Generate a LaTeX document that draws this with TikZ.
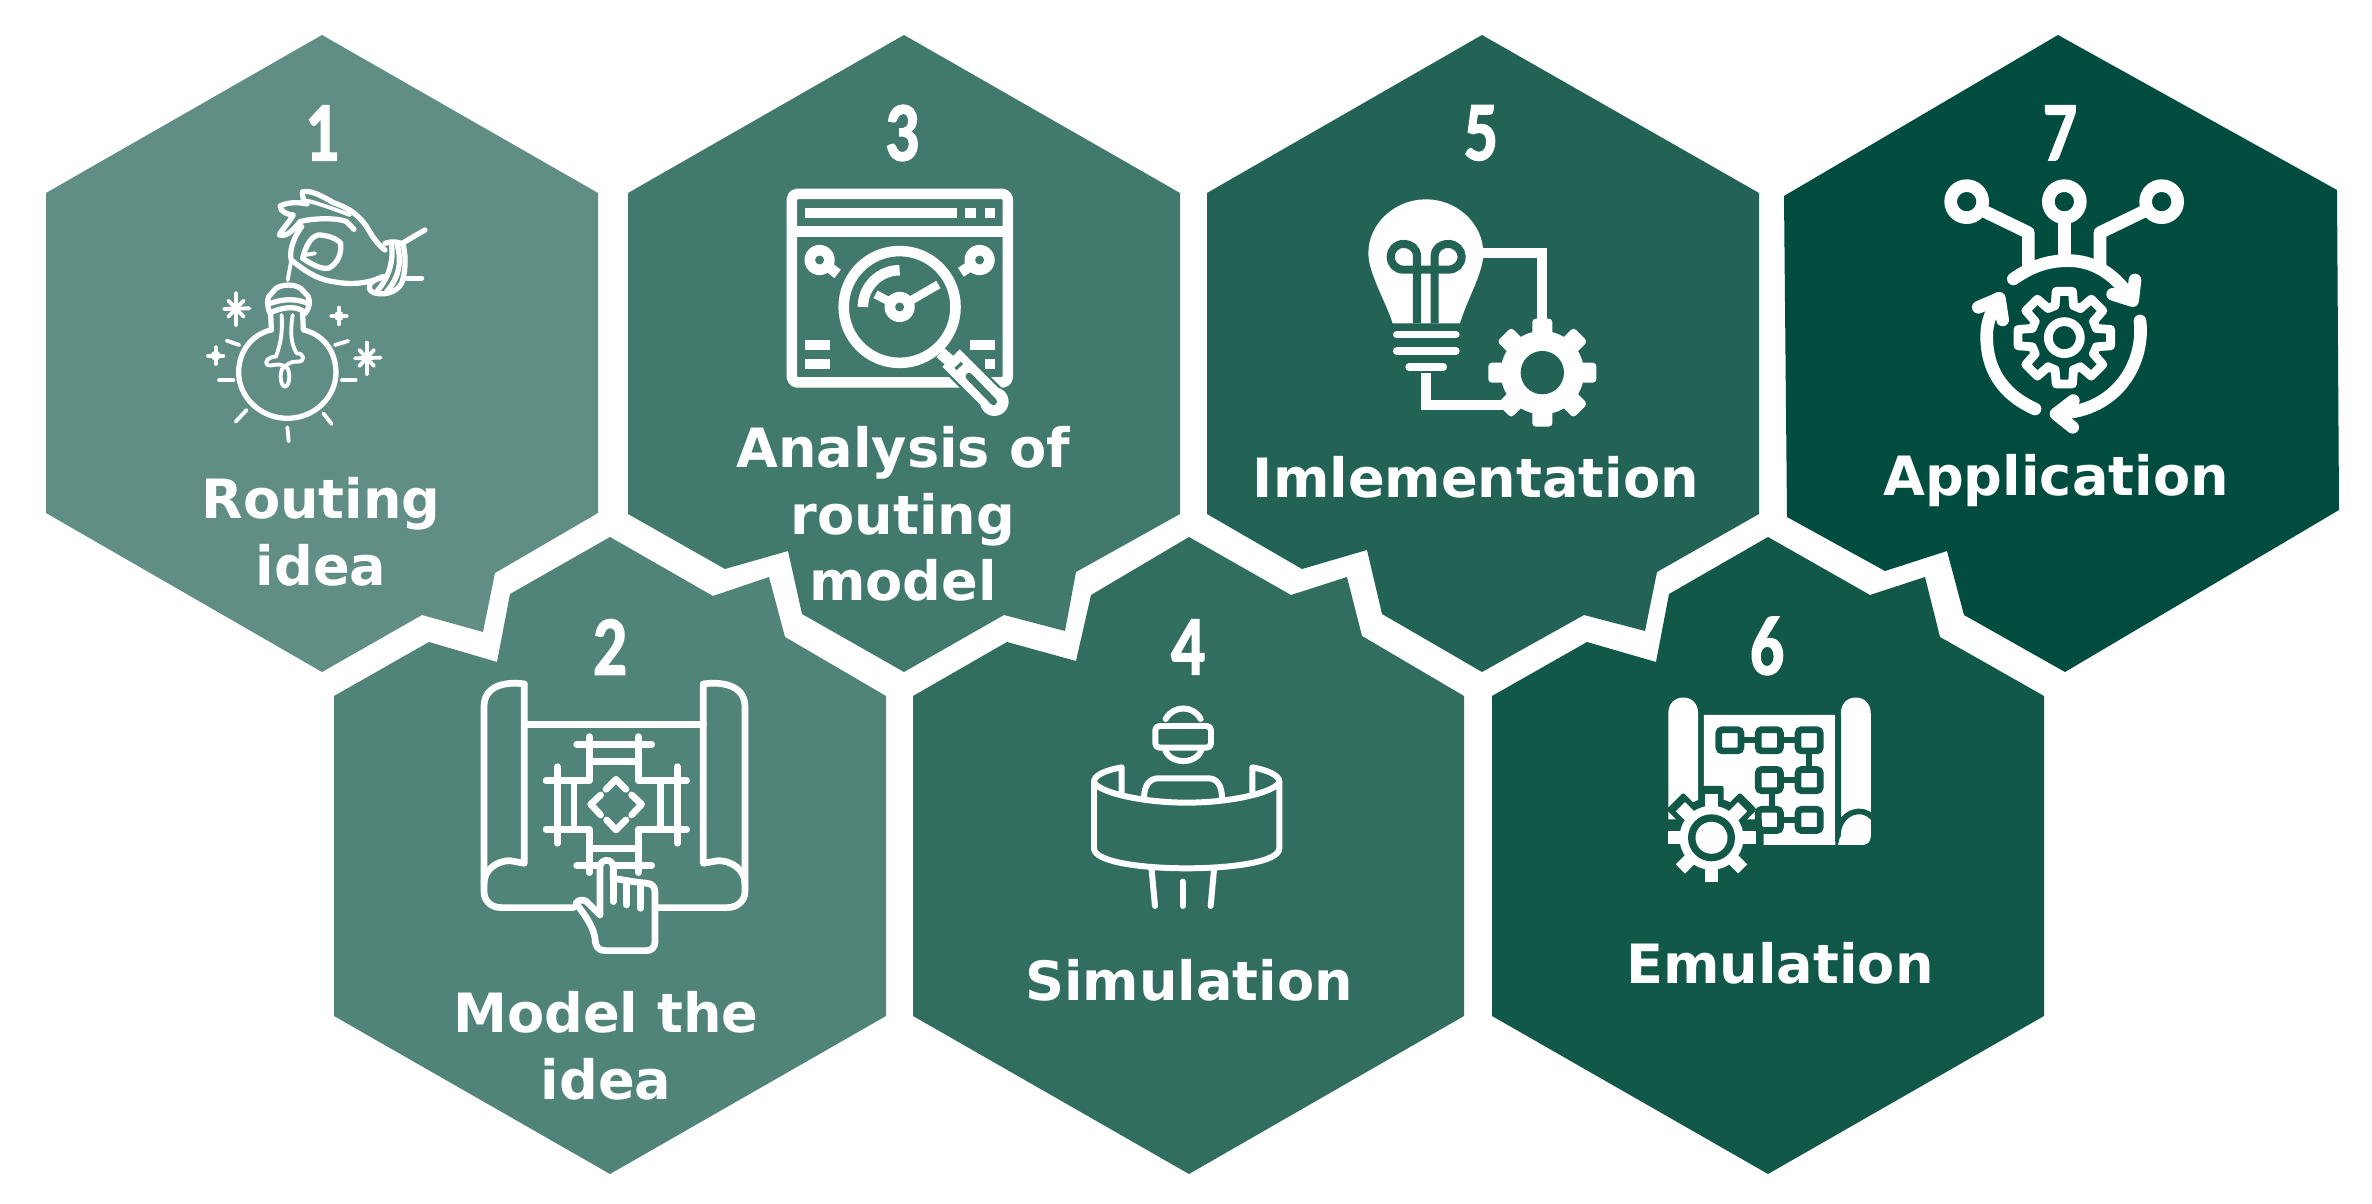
\documentclass[tikz,border=0pt]{standalone}
\usepackage{fontspec}
\setmainfont{DejaVu Sans}
\newfontfamily\numfont[BoldFeatures={FakeStretch=0.8,FakeBold=1.5}]{Carlito}

\definecolor{hexone}{HTML}{608E85}
\definecolor{hextwo}{HTML}{518479}
\definecolor{hexthree}{HTML}{41796D}
\definecolor{hexfour}{HTML}{316E60}
\definecolor{hexfive}{HTML}{226356}
\definecolor{hexsix}{HTML}{115848}
\definecolor{hexseven}{HTML}{004D40}

\tikzset{
  steplabel/.style={text=white,inner sep=0pt,align=center,font=\fontsize{15.4}{19}\selectfont\bfseries},
  stepnum/.style={text=white,inner sep=0pt,font=\numfont\fontsize{24}{24}\selectfont\bfseries},
  iconline/.style={draw=white,line width=#1,line cap=round,line join=round},
  iconline/.default=1.7pt
}

\begin{document}
\begin{tikzpicture}[x=0.01cm,y=-0.01cm]
\useasboundingbox (0,0) rectangle (2372,1204);

\fill[hexone] (322,35)--(598,193)--(598,513)--(495,573)--(483,632)--(422,615)--(322,672)--(46,513)--(46,193)--cycle;
\fill[hextwo] (610,537)--(713,596)--(769,577)--(785,637)--(886,696)--(886,1016)--(610,1174)--(334,1016)--(334,696)--(429,642)--(497,662)--(510,594)--cycle;
\fill[hexthree] (904,35)--(1180,193)--(1180,514)--(1076,572)--(1065,631)--(1004,615)--(904,672)--(802,614)--(788,551)--(725,569)--(628,514)--(628,193)--cycle;
\fill[hexfour] (1189,537)--(1291,595)--(1347,577)--(1362,636)--(1464,696)--(1464,1016)--(1189,1174)--(913,1016)--(913,696)--(1007,642)--(1076,661)--(1091,595)--cycle;
\fill[hexfive] (1482,35)--(1759,193)--(1759,514)--(1657,572)--(1645,631)--(1584,615)--(1482,672)--(1382,614)--(1367,550)--(1302,569)--(1207,514)--(1207,193)--cycle;
\fill[hexsix] (1768,537)--(1870,595)--(1925,577)--(1940,637)--(2044,696)--(2044,1016)--(1768,1174)--(1492,1016)--(1492,696)--(1587,642)--(1656,662)--(1669,594)--cycle;
\fill[hexseven] (2058,35)--(2337,190)--(2339,510)--(2065,672)--(1964,615)--(1947,551)--(1885,571)--(1787,517)--(1784,196)--cycle;

\node[stepnum] (num1) at (322,133) {1};
\node[stepnum] (num2) at (610,647) {2};
\node[stepnum] (num3) at (902,133) {3};
\node[stepnum] (num4) at (1188,647) {4};
\node[stepnum] (num5) at (1481,133) {5};
\node[stepnum] (num6) at (1767,646) {6};
\node[stepnum] (num7) at (2060,133) {7};

\node[steplabel] (idea) at (321,532) {Routing\\idea};
\node[steplabel] (model) at (606,1046) {Model the\\idea};
\node[steplabel] (analysis) at (903,514) {Analysis of\\routing\\model};
\node[steplabel] (simulation) at (1189,980) {Simulation};
\node[steplabel] (implementation) at (1476,477) {Imlementation};
\node[steplabel] (emulation) at (1780,963) {Emulation};
\node[steplabel] (application) at (2056,481) {Application};

% bulb in the hand
\begin{scope}[shift={(190,180)},scale=0.3333]
\draw[iconline=1.5pt] (244,450) .. controls (195,460) and (146,505) .. (146,578) .. controls (146,650) and (210,715) .. (292,715) .. controls (375,715) and (438,650) .. (438,578) .. controls (438,505) and (390,460) .. (340,450)--(338,400);
\draw[iconline=1.5pt] (244,450)--(242,400);
\draw[iconline=1.5pt] (240,400) .. controls (230,375) and (232,360) .. (236,350)--(258,325) .. controls (280,312) and (310,312) .. (332,325)--(355,350) .. controls (360,365) and (360,380) .. (346,400);
\draw[iconline=1.5pt] (236,372) .. controls (280,355) and (320,355) .. (358,372);
\draw[iconline=1.5pt] (240,398) .. controls (290,378) and (320,378) .. (346,398);
\draw[iconline=1.1pt] (304,240)--(293,300);
\draw[iconline=1.1pt] (275,405) .. controls (278,460) and (272,490) .. (258,530);
\draw[iconline=1.1pt] (308,405) .. controls (300,460) and (303,490) .. (320,520);
\draw[iconline=1.1pt] (285,590) ellipse (13 and 30);
\draw[iconline=1.1pt] (258,530) .. controls (235,530) and (222,545) .. (232,555) .. controls (245,562) and (262,545) .. (285,560);
\draw[iconline=1.1pt] (320,520) .. controls (345,520) and (345,545) .. (325,545) .. controls (310,545) and (300,545) .. (285,560);
\draw[iconline=1.1pt] (137,340)--(137,435);
\draw[iconline=1.1pt] (102,387)--(178,385);
\draw[iconline=1.1pt] (115,362)--(161,410);
\draw[iconline=1.1pt] (161,362)--(115,410);
\draw[iconline=1.1pt] (530,488)--(530,582);
\draw[iconline=1.1pt] (495,535)--(572,533);
\draw[iconline=1.1pt] (508,510)--(552,558);
\draw[iconline=1.1pt] (552,510)--(508,558);
\foreach \sx/\sy in {447/408,77/527} {
  \fill[white] (\sx,\sy) circle (15);
  \draw[iconline=1.1pt] (\sx,\sy-25)--(\sx,\sy+25);
  \draw[iconline=1.1pt] (\sx-23,\sy)--(\sx+23,\sy);
}
\draw[iconline=1.1pt] (110,482)--(148,495);
\draw[iconline=1.1pt] (435,495)--(475,483);
\draw[iconline=1.1pt] (87,601)--(130,601);
\draw[iconline=1.1pt] (456,601)--(497,601);
\draw[iconline=1.1pt] (170,690)--(137,725);
\draw[iconline=1.1pt] (400,700)--(425,732);
\draw[iconline=1.1pt] (292,742)--(296,784);
\draw[iconline=1.5pt] (338,36) .. controls (360,28) and (400,50) .. (430,68) .. controls (480,85) and (505,105) .. (530,140) .. controls (550,175) and (565,195) .. (585,210);
\draw[iconline=1.5pt] (338,36) .. controls (335,50) and (340,60) .. (352,72) .. controls (320,65) and (290,68) .. (270,78) .. controls (270,95) and (295,105) .. (310,105) .. controls (295,130) and (275,150) .. (268,165) .. controls (290,172) and (310,150) .. (330,125) .. controls (380,112) and (450,115) .. (470,125)--(492,148);
\draw[iconline=1.1pt] (352,62) .. controls (400,75) and (440,90) .. (480,105);
\draw[iconline=1.5pt] (335,140) .. controls (305,180) and (298,220) .. (304,240) .. controls (340,270) and (380,298) .. (430,305) .. controls (480,315) and (530,312) .. (580,290);
\draw[iconline=1.5pt] (338,235) .. controls (345,205) and (360,170) .. (385,165) .. controls (410,165) and (440,175) .. (452,190) .. controls (455,220) and (445,250) .. (415,265) .. controls (390,268) and (360,250) .. (338,235);
\draw[iconline=1.1pt] (345,225)--(375,220);
\draw[iconline=1.5pt] (585,190) .. controls (605,182) and (630,185) .. (640,195) .. controls (650,240) and (645,280) .. (635,310) .. controls (620,340) and (570,350) .. (545,335) .. controls (530,320) and (535,305) .. (580,290);
\draw[iconline=1.5pt] (605,195) .. controls (610,240) and (600,290) .. (560,335);
\draw[iconline=1.5pt] (622,195) .. controls (635,240) and (630,290) .. (590,335);
\draw[iconline=1.5pt] (640,188)--(705,150);
\draw[iconline=1.5pt] (645,295)--(695,295);
\end{scope}

% blueprint with the finger
\begin{scope}[shift={(470,670)},scale=0.3333]
\draw[iconline=1.9pt] (163,42) .. controls (120,35) and (42,40) .. (42,110)--(42,665) .. controls (42,690) and (60,713) .. (95,713)--(310,713);
\draw[iconline=1.9pt] (163,42)--(163,580)--(120,572) .. controls (80,572) and (42,600) .. (42,640);
\draw[iconline=1.9pt] (700,42) .. controls (745,35) and (825,40) .. (825,110)--(825,665) .. controls (825,690) and (805,713) .. (770,713)--(555,713);
\draw[iconline=1.9pt] (700,42)--(700,580)--(745,572) .. controls (785,572) and (825,600) .. (825,640);
\draw[iconline=1.9pt] (163,163)--(700,163);
\draw[iconline=1.9pt] (320,223)--(545,223);
\draw[iconline=1.9pt] (358,200)--(358,332)--(228,332);
\draw[iconline=1.9pt] (505,200)--(505,332)--(650,332);
\draw[iconline=1.9pt] (365,275)--(495,275);
\draw[iconline=1.9pt] (262,290)--(262,520);
\draw[iconline=1.9pt] (622,290)--(622,520);
\draw[iconline=1.9pt] (312,342)--(312,470);
\draw[iconline=1.9pt] (572,342)--(572,470);
\draw[iconline=1.9pt] (228,478)--(358,478)--(358,608);
\draw[iconline=1.9pt] (650,478)--(505,478)--(505,608);
\draw[iconline=1.9pt] (365,535)--(495,535);
\draw[iconline=1.9pt] (320,587)--(545,587);
\draw[iconline=1.9pt] (408,358)--(438,328)--(468,358);
\draw[iconline=1.9pt] (485,375)--(515,403)--(485,435);
\draw[iconline=1.9pt] (410,450)--(438,480)--(468,450);
\draw[iconline=1.9pt] (392,375)--(362,403)--(392,435);
\draw[iconline=1.9pt,fill=hextwo] (390,735)--(390,590) .. controls (392,565) and (428,565) .. (430,590)--(430,625)--(490,635)--(530,640) .. controls (545,640) and (555,650) .. (555,665)--(555,815) .. controls (555,832) and (545,842) .. (530,842)--(405,842) .. controls (385,842) and (376,830) .. (375,805) .. controls (370,770) and (345,735) .. (318,700) .. controls (325,688) and (340,688) .. (350,695)--cycle;
\draw[iconline=1.9pt] (430,590)--(430,695);
\draw[iconline=1.9pt] (470,632)--(470,705);
\draw[iconline=1.9pt] (512,640)--(512,715);
\end{scope}

% window with the magnifier
\begin{scope}[shift={(620,20)},scale=0.4082]
\draw[iconline=3pt,rounded corners=1.5pt] (421,426) rectangle (950,888);
\draw[iconline=3pt,line cap=butt] (421,518)--(950,518);
\fill[white] (453,461) rectangle (826,484);
\fill[white] (845,461) rectangle (872,484);
\fill[white] (893,461) rectangle (918,484);
\fill[white] (453,785) rectangle (514,808);
\fill[white] (453,830) rectangle (514,855);
\fill[white] (857,785) rectangle (918,808);
\fill[white] (893,830) rectangle (918,855);
\foreach \kx/\tx/\ty in {489/533/622,881/835/618} {
  \draw[iconline=3pt,line cap=butt] (\kx,588)--(\tx,\ty);
  \fill[white] (\kx,588) circle (37);
  \fill[hexthree] (\kx,588) circle (11);
}
\draw[draw=white,line width=3pt] (685,703) circle (137);
\draw[draw=white,line width=3pt] (595,703) arc (180:270:90);
\draw[draw=white,line width=2.4pt] (685,703)--(780,648);
\draw[draw=white,line width=2.4pt] (685,703)--(626,672);
\fill[white] (685,703) circle (37);
\fill[hexthree] (685,703) circle (11);
\draw[draw=hexthree,line width=8.4pt] (808,825)--(915,932);
\draw[draw=white,line width=3.4pt] (785,815)--(808,835);
\draw[draw=white,line width=7pt] (811,828)--(905,922);
\fill[white] (917,935) circle (35);
\draw[draw=hexthree,line width=2pt,line cap=round] (855,873)--(915,935);
\draw[draw=hexthree,line width=0.9pt] (822,855)--(838,840);
\end{scope}

% figure behind the curved screen
\begin{scope}[shift={(1070,690)},scale=0.3333]
\draw[iconline=1.7pt] (287,87) .. controls (310,45) and (370,45) .. (392,87);
\draw[iconline=1.7pt,rounded corners=1.2pt] (256,108) rectangle (423,173);
\draw[iconline=1.7pt] (285,178) .. controls (300,225) and (380,225) .. (395,178);
\draw[iconline=1.7pt] (222,325) .. controls (222,285) and (240,265) .. (265,265)--(415,265) .. controls (440,265) and (456,285) .. (456,325);
\draw[iconline=1.7pt] (155,310)--(155,232) .. controls (110,240) and (72,255) .. (72,275)--(72,475) .. controls (72,515) and (210,535) .. (350,535) .. controls (490,535) and (628,515) .. (628,475)--(628,275) .. controls (628,255) and (590,240) .. (547,232)--(547,310);
\draw[iconline=1.7pt] (72,275) .. controls (80,305) and (210,338) .. (350,338) .. controls (490,338) and (620,305) .. (628,275);
\draw[iconline=1.7pt] (245,540)--(255,648);
\draw[iconline=1.7pt] (338,575)--(338,648);
\draw[iconline=1.7pt] (432,540)--(422,648);
\end{scope}

% bulb wired to the gear
\begin{scope}[shift={(1350,190)},scale=0.3333]
\fill[white] (128,400) .. controls (110,340) and (55,250) .. (55,190) .. controls (55,100) and (135,28) .. (228,28) .. controls (320,28) and (400,100) .. (400,190) .. controls (400,250) and (350,330) .. (330,400)--cycle;
\draw[draw=hexfive,line width=2.3pt] (254,400)--(254,200) .. controls (254,175) and (272,162) .. (295,162) .. controls (318,162) and (335,180) .. (335,200) .. controls (335,222) and (318,239) .. (295,239)--(160,239) .. controls (138,239) and (122,222) .. (122,200) .. controls (122,180) and (138,162) .. (160,162) .. controls (183,162) and (201,175) .. (201,200)--(201,400);
\draw[iconline=2.1pt] (140,434)--(318,434);
\draw[iconline=2.1pt] (140,483)--(318,483);
\draw[iconline=2.1pt] (177,531)--(280,531);
\draw[draw=white,line width=2.84pt] (400,190)--(575,190)--(575,390);
\draw[draw=white,line width=2.84pt] (228,548)--(228,645)--(460,645);
\fill[white] (577,548) circle (125);
\foreach \a in {0,45,...,315} {
  \fill[white,rotate around={\a:(577,548)},rounded corners=1pt] (547,386) rectangle (607,500);
}
\fill[hexfive] (577,548) circle (65);
\end{scope}

% blueprint with the flow chart
\begin{scope}[shift={(1480,540)},xscale=0.3827,yscale=0.4235]
\fill[white] (492,660)--(492,410) .. controls (492,385) and (510,372) .. (531,372) .. controls (552,372) and (570,385) .. (570,410)--(570,660)--cycle;
\fill[white] (585,413)--(928,413)--(928,720)--(737,720)--(737,660)--(585,660)--cycle;
\fill[white] (920,720)--(1000,720) .. controls (1012,720) and (1021,712) .. (1021,700)--(1021,410) .. controls (1021,385) and (1003,372) .. (982,372) .. controls (961,372) and (943,385) .. (943,410)--(943,700)--cycle;
\draw[draw=hexsix,line width=1.6pt,line cap=round] (936,413)--(936,688) .. controls (945,640) and (1000,628) .. (1025,655);
\foreach \bx/\by in {653/473,756/473,860/473,756/567,860/567,756/661,860/661} {
  \draw[draw=hexsix,line width=1.9pt,rounded corners=1pt] (\bx-29,\by-25) rectangle (\bx+29,\by+25);
}
\draw[draw=hexsix,line width=1.6pt] (683,473)--(727,473);
\draw[draw=hexsix,line width=1.6pt] (786,473)--(830,473);
\draw[draw=hexsix,line width=1.6pt] (860,498)--(860,542);
\draw[draw=hexsix,line width=1.6pt] (786,567)--(830,567);
\draw[draw=hexsix,line width=1.6pt] (763,592)--(763,636);
\draw[draw=hexsix,line width=1.6pt] (786,661)--(830,661);
\end{scope}
\begin{scope}[shift={(1711.5,837.8)}]
\fill[hexsix] (0,0) circle (40);
\foreach \a in {0,45,...,315} {
  \fill[hexsix,rotate=\a,rounded corners=0.6pt] (-12,-52) rectangle (12,-25);
}
\fill[white] (0,0) circle (32);
\foreach \a in {0,45,...,315} {
  \fill[white,rotate=\a] (-6.5,-44) rectangle (6.5,-25);
}
\fill[hexsix] (0,0) circle (23.5);
\fill[white] (0,0) circle (16);
\end{scope}

% gear in a cycle with three outputs
\begin{scope}[shift={(1930,170)},scale=0.3333]
\foreach \cx in {110,403,695} {
  \draw[draw=white,line width=3.6pt] (\cx,95) circle (48);
}
\draw[iconline=3.6pt] (165,125)--(295,188)--(295,285);
\draw[iconline=3.6pt] (403,150)--(403,265);
\draw[iconline=3.6pt] (640,125)--(510,188)--(510,285);
\draw[iconline=3.6pt] (250,327) .. controls (310,285) and (360,272) .. (415,272) .. controls (490,272) and (550,310) .. (600,380);
\draw[iconline=3.6pt] (615,330)--(608,392)--(548,373);
\draw[iconline=3.6pt] (630,453) .. controls (645,580) and (560,725) .. (385,730);
\draw[iconline=3.6pt] (430,692)--(378,732)--(428,772);
\draw[iconline=3.6pt] (315,717) .. controls (210,670) and (170,590) .. (170,500) .. controls (170,470) and (175,440) .. (205,385);
\draw[iconline=3.6pt] (145,412)--(208,385)--(218,450);
\begin{scope}[shift={(403,503)}]
\draw[draw=white,line width=2.5pt] (0,0) circle (48);
\foreach \a in {0,45,...,315} {
  \draw[iconline=2.5pt] (\a-16:100)--(\a-10:141)--(\a+10:141)--(\a+16:100)--(\a+29:100);
}
\end{scope}
\end{scope}

\end{tikzpicture}
\end{document}
